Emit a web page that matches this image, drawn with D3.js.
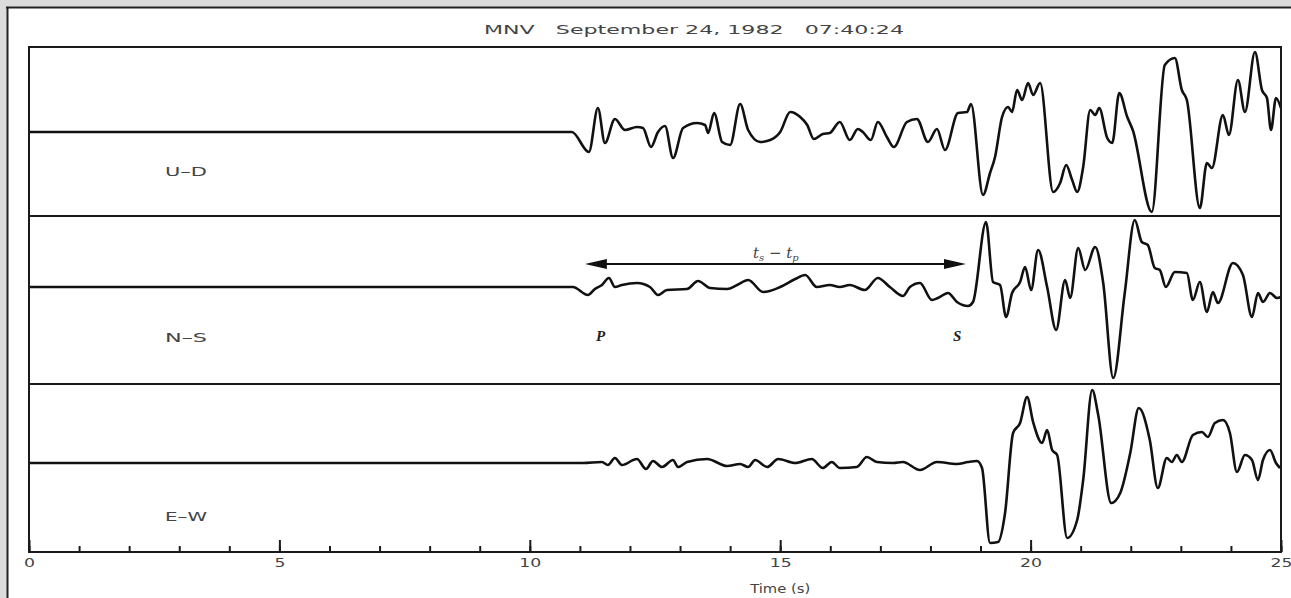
<!DOCTYPE html>
<html>
<head>
<meta charset="utf-8">
<script src="https://cdn.jsdelivr.net/npm/d3@7.9.0/dist/d3.min.js"></script>
<style>
  body { margin: 0; background: #fff; }
  svg { display: block; }
</style>
</head>
<body>
<svg id="chart" width="1291" height="598"></svg>
<script>
// channels and traces, [time (s), amplitude]
const channels = ['U–D', 'N–S', 'E–W'];

const udTrace = [[0,0],[10.84,0],[11.18,-20],[11.36,24],[11.50,-11],[11.70,13],[11.90,2],[12.14,5],[12.26,4],
  [12.42,-15],[12.56,0],[12.70,6],[12.86,-26],[13.06,4],[13.34,9],[13.50,7],[13.56,-1],[13.68,19],[13.84,-10],
  [14.00,-13],[14.20,28],[14.36,2],[14.60,-10],[14.80,-8],[15.00,0],[15.20,20],[15.40,15],[15.54,7],[15.67,-7],
  [15.85,-2],[15.99,-1],[16.19,10],[16.39,-8],[16.55,3],[16.65,0],[16.81,-8],[16.95,10],[17.13,-5],[17.27,-15],
  [17.53,10],[17.73,13],[17.95,-10],[18.13,3],[18.29,-18],[18.55,19],[18.73,20],[18.81,28],[19.05,-63],[19.19,-41],
  [19.29,-25],[19.43,15],[19.55,25],[19.63,20],[19.73,42],[19.83,32],[19.95,49],[20.05,37],[20.19,49],[20.45,-60],
  [20.59,-51],[20.71,-33],[20.83,-48],[20.93,-60],[21.05,-35],[21.19,22],[21.29,17],[21.37,24],[21.53,-6],[21.63,-11],
  [21.77,39],[21.93,15],[22.04,2],[22.42,-80],[22.68,67],[22.88,74],[23.02,42],[23.12,32],[23.38,-76],[23.52,-31],
  [23.62,-36],[23.84,17],[23.96,-3],[24.14,52],[24.28,20],[24.48,80],[24.62,42],[24.72,34],[24.80,2],[24.90,34],[25.00,24]];

const nsTrace = [[0,0],[10.86,0],[11.16,-8],[11.30,-2],[11.44,2],[11.58,9],[11.70,0],[11.84,2],[12.14,4],[12.40,0],
  [12.56,-8],[12.74,-3],[13.14,-2],[13.36,6],[13.60,-1],[13.94,-2],[14.14,2],[14.36,7],[14.66,-5],[15.00,0],[15.30,8],
  [15.50,12],[15.73,0],[15.99,2],[16.19,0],[16.39,2],[16.69,-3],[16.95,9],[17.19,0],[17.45,-9],[17.59,0],[17.79,4],
  [18.03,-13],[18.15,-11],[18.35,-6],[18.53,-15],[18.75,-19],[18.85,-15],[19.11,65],[19.25,5],[19.39,2],[19.51,-30],
  [19.63,-6],[19.79,5],[19.89,20],[20.01,-3],[20.15,37],[20.33,0],[20.51,-43],[20.69,7],[20.79,-11],[20.95,39],
  [21.09,17],[21.29,40],[21.45,4],[21.65,-91],[21.88,-6],[22.08,67],[22.22,45],[22.34,42],[22.48,19],[22.58,17],
  [22.70,0],[22.88,15],[23.12,14],[23.24,-13],[23.38,5],[23.52,-25],[23.64,-5],[23.74,-16],[24.04,24],[24.24,12],
  [24.42,-30],[24.54,-6],[24.64,-15],[24.78,-6],[24.92,-11],[25.00,-10]];

const ewTrace = [[0,0],[11.06,0],[11.44,1],[11.56,-2],[11.70,5],[11.84,-2],[12.14,4],[12.32,-6],[12.46,2],[12.64,-4],
  [12.86,3],[12.96,-4],[13.14,1],[13.54,4],[13.94,-3],[14.20,-1],[14.36,-4],[14.50,3],[14.74,-4],[14.96,4],[15.30,0],
  [15.63,4],[15.85,-5],[16.03,1],[16.19,-5],[16.53,-4],[16.73,6],[16.93,1],[17.25,0],[17.45,1],[17.79,-7],[18.13,1],
  [18.53,-1],[18.75,1],[18.93,2],[19.03,-5],[19.19,-80],[19.35,-79],[19.49,-50],[19.65,30],[19.79,40],[19.93,66],
  [20.05,41],[20.23,20],[20.33,33],[20.43,13],[20.53,8],[20.73,-75],[20.93,-57],[21.05,-17],[21.23,73],[21.35,48],
  [21.61,-40],[21.79,-30],[21.99,10],[22.16,55],[22.38,23],[22.54,-25],[22.72,5],[22.82,1],[22.92,8],[23.02,1],
  [23.24,28],[23.42,31],[23.54,26],[23.68,40],[23.84,43],[23.98,30],[24.12,-9],[24.28,8],[24.42,3],[24.54,-17],
  [24.64,3],[24.78,13],[24.90,0],[24.98,-5]];

const traces = [udTrace, nsTrace, ewTrace];

const majorTicks = [0, 5, 10, 15, 20, 25];
const minorTicks = d3.range(0, 26);
const pArrival = 11.3, sArrival = 18.43;
const arrowFrom = 11.1, arrowTo = 18.71;

// layout
const boxTop = 47, boxBottom = 552;
const panelTops = [47, 216, 384];
const baselines = [132, 287, 463];

const svg = d3.select('#chart');
const x = d3.scaleLinear().domain([0, 25]).range([29, 1281]);

// page frame (grey strip, top and left rules)
svg.append('rect').attr('width', 1291).attr('height', 598).attr('fill', '#fff');
svg.append('rect').attr('width', 1291).attr('height', 7).attr('fill', '#dcdcdc');
svg.append('rect').attr('width', 7).attr('height', 598).attr('fill', '#dcdcdc');
svg.append('line').attr('x1', 6).attr('x2', 1291).attr('y1', 7.5).attr('y2', 7.5)
  .attr('stroke', '#222').attr('stroke-width', 2);
svg.append('line').attr('x1', 7.5).attr('x2', 7.5).attr('y1', 7).attr('y2', 598)
  .attr('stroke', '#222').attr('stroke-width', 2);

// title
svg.append('text')
  .attr('x', 484).attr('y', 34)
  .attr('textLength', 420).attr('lengthAdjust', 'spacingAndGlyphs')
  .attr('font-family', 'DejaVu Sans, Verdana, sans-serif')
  .attr('font-size', 12).attr('fill', '#444')
  .attr('xml:space', 'preserve')
  .text('MNV   September 24, 1982   07:40:24');

// traces
const line = d3.line().curve(d3.curveMonotoneX);
traces.forEach((tr, i) => {
  let y = d3.scaleLinear().domain([0, 100]).range([baselines[i], baselines[i] - 100]);
  line.x(d => x(d[0])).y(d => y(d[1]));
  svg.append('path')
    .attr('d', line(tr))
    .attr('fill', 'none')
    .attr('stroke', '#111')
    .attr('stroke-width', 2.6)
    .attr('stroke-linejoin', 'round');
});

// panel box and separators
svg.append('rect')
  .attr('x', x(0)).attr('y', boxTop)
  .attr('width', x(25) - x(0)).attr('height', boxBottom - boxTop)
  .attr('fill', 'none').attr('stroke', '#1a1a1a').attr('stroke-width', 2);
panelTops.slice(1).forEach(py => {
  svg.append('line').attr('x1', x(0)).attr('x2', x(25)).attr('y1', py).attr('y2', py)
    .attr('stroke', '#1a1a1a').attr('stroke-width', 2);
});

// channel labels
const labelY = [176, 342, 521];
channels.forEach((c, i) => {
  svg.append('text')
    .attr('x', 165).attr('y', labelY[i])
    .attr('textLength', 42).attr('lengthAdjust', 'spacingAndGlyphs')
    .attr('font-family', 'DejaVu Sans, Verdana, sans-serif')
    .attr('font-size', 12).attr('fill', '#444')
    .text(c);
});

// axes: minor and major ticks point up into the plot
const minorAxis = d3.axisBottom(x).tickValues(minorTicks).tickSize(-6).tickFormat('');
const majorAxis = d3.axisBottom(x).tickValues(majorTicks).tickSize(-12).tickPadding(6);
const gMinor = svg.append('g').attr('transform', `translate(0,${boxBottom})`).call(minorAxis);
const gMajor = svg.append('g').attr('transform', `translate(0,${boxBottom})`).call(majorAxis);
[gMinor, gMajor].forEach(g => {
  g.select('.domain').remove();
  g.selectAll('line').attr('stroke', '#1a1a1a').attr('stroke-width', 2);
});
gMajor.selectAll('text')
  .attr('font-family', 'DejaVu Sans, Verdana, sans-serif')
  .attr('font-size', 12.5).attr('fill', '#444')
  .attr('textLength', d => d < 10 ? 11 : 22)
  .attr('lengthAdjust', 'spacingAndGlyphs');

svg.append('text')
  .attr('x', x(15)).attr('y', 593)
  .attr('text-anchor', 'middle')
  .attr('textLength', 60).attr('lengthAdjust', 'spacingAndGlyphs')
  .attr('font-family', 'DejaVu Sans, Verdana, sans-serif')
  .attr('font-size', 12).attr('fill', '#444')
  .text('Time (s)');

// S-P interval arrow
const ay = 264;
svg.append('line').attr('x1', x(arrowFrom) + 10).attr('x2', x(arrowTo) - 10)
  .attr('y1', ay).attr('y2', ay).attr('stroke', '#111').attr('stroke-width', 2);
const head = (tip, dir) => `M${tip},${ay} L${tip + dir * 22},${ay - 5} L${tip + dir * 22},${ay + 5} Z`;
svg.append('path').attr('d', head(x(arrowFrom), 1)).attr('fill', '#111');
svg.append('path').attr('d', head(x(arrowTo), -1)).attr('fill', '#111');

const tsp = svg.append('text')
  .attr('x', 753).attr('y', 258)
  .attr('font-family', 'DejaVu Serif, Liberation Serif, serif')
  .attr('font-style', 'italic').attr('font-size', 15).attr('fill', '#444');
tsp.append('tspan').text('t');
tsp.append('tspan').attr('font-size', 10).attr('dy', 3).text('s');
tsp.append('tspan').attr('dy', -3).attr('font-style', 'normal').text(' − ');
tsp.append('tspan').text('t');
tsp.append('tspan').attr('font-size', 10).attr('dy', 3).text('p');

// P and S marks
[['P', pArrival], ['S', sArrival]].forEach(([lab, t]) => {
  svg.append('text')
    .attr('x', x(t) + 1).attr('y', 341)
    .attr('font-family', 'Liberation Serif, Times New Roman, serif')
    .attr('font-style', 'italic').attr('font-weight', 'bold')
    .attr('font-size', 15).attr('fill', '#222')
    .text(lab);
});
</script>
</body>
</html>
